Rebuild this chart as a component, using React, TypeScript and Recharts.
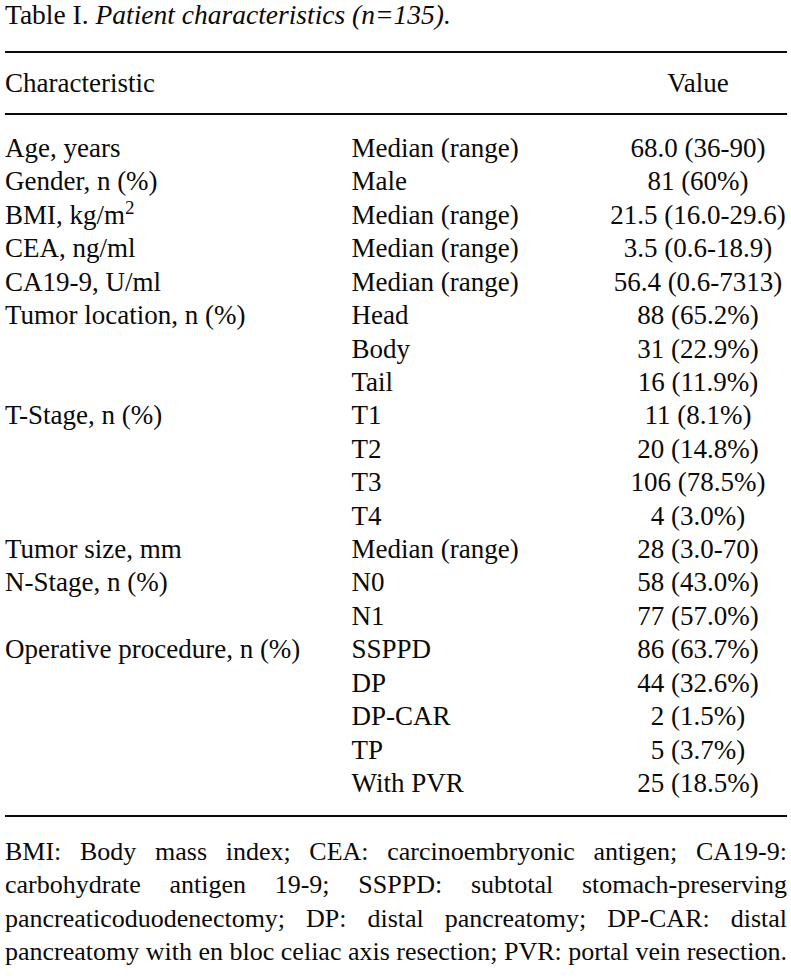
import React from 'react';
import { ScatterChart, Scatter, XAxis, YAxis } from 'recharts';

const columns = ['characteristic', 'subgroup', 'value'];
const headers = ['Characteristic', '', 'Value'];

const characteristics = [
  'Age, years', 'Gender, n (%)', 'BMI, kg/m^2', 'CEA, ng/ml', 'CA19-9, U/ml',
  'Tumor location, n (%)', '', '', 'T-Stage, n (%)', '', '', '',
  'Tumor size, mm', 'N-Stage, n (%)', '', 'Operative procedure, n (%)', '', '', '', '',
];
const subgroups = [
  'Median (range)', 'Male', 'Median (range)', 'Median (range)', 'Median (range)',
  'Head', 'Body', 'Tail', 'T1', 'T2', 'T3', 'T4', 'Median (range)', 'N0', 'N1',
  'SSPPD', 'DP', 'DP-CAR', 'TP', 'With PVR',
];
const values = [
  '68.0 (36-90)', '81 (60%)', '21.5 (16.0-29.6)', '3.5 (0.6-18.9)', '56.4 (0.6-7313)',
  '88 (65.2%)', '31 (22.9%)', '16 (11.9%)', '11 (8.1%)', '20 (14.8%)', '106 (78.5%)',
  '4 (3.0%)', '28 (3.0-70)', '58 (43.0%)', '77 (57.0%)', '86 (63.7%)', '44 (32.6%)',
  '2 (1.5%)', '5 (3.7%)', '25 (18.5%)',
];

const titleLead = 'Table I.';
const titleItalic = 'Patient characteristics (n=135).';

const footnoteLines = [
  'BMI: Body mass index; CEA: carcinoembryonic antigen; CA19-9:',
  'carbohydrate antigen 19-9; SSPPD: subtotal stomach-preserving',
  'pancreaticoduodenectomy; DP: distal pancreatomy; DP-CAR: distal',
  'pancreatomy with en bloc celiac axis resection; PVR: portal vein resection.',
];

const FONT = "'Liberation Serif', 'Times New Roman', Times, serif";
const INK = '#0a0a0a';

const cellsFor = (col: number, texts: string[]) =>
  texts.map((text, i) => ({ col: columns[col], row: i, text }));
const charCells = cellsFor(0, characteristics);
const subCells = cellsFor(1, subgroups);
const valueCells = cellsFor(2, values);
const allCells = [...charCells, ...subCells, ...valueCells];

function CellText(props: any) {
  const { cx, cy, payload } = props;
  const text: string = payload && payload.text;
  if (!text) return <g />;
  const anchor = payload.col === 'value' ? 'middle' : 'start';
  const sup = text.indexOf('^');
  return (
    <text x={cx} y={cy + 9} textAnchor={anchor} fontFamily={FONT} fontSize={27} fill={INK}>
      {sup >= 0 ? (
        <>
          {text.slice(0, sup)}
          <tspan dy={-10} fontSize={19}>{text.slice(sup + 1)}</tspan>
        </>
      ) : (
        text
      )}
    </text>
  );
}

function HeaderTick(props: any) {
  const { x, y, payload } = props;
  const i = columns.indexOf(payload.value);
  const label = headers[i];
  if (!label) return <g />;
  return (
    <text x={x} y={y} textAnchor={i === 2 ? 'middle' : 'start'} fontFamily={FONT} fontSize={27} fill={INK} stroke="none">
      {label}
    </text>
  );
}

const Hidden = () => <g />;
const rule = { stroke: INK, strokeWidth: 2 };

export default function App() {
  return (
    <div style={{ position: 'absolute', left: 0, top: 0, width: 791, height: 978, background: '#fff' }}>
      <div
        style={{
          position: 'absolute', left: 5, top: 0, fontFamily: FONT, fontSize: 27.5,
          lineHeight: '30px', color: INK, whiteSpace: 'nowrap',
        }}
      >
        {titleLead} <i>{titleItalic}</i>
      </div>
      <ScatterChart width={791} height={978} margin={{ top: 51, right: 4, bottom: 161, left: 5 }}>
        <XAxis
          xAxisId="head"
          orientation="top"
          type="category"
          dataKey="col"
          allowDuplicatedCategory={false}
          ticks={columns}
          scale="point"
          padding={{ left: 0, right: 89 }}
          height={62}
          axisLine={rule}
          tickLine={false}
          tickSize={0}
          tickMargin={22}
          interval={0}
          tick={<HeaderTick />}
        />
        <XAxis
          xAxisId="rule"
          orientation="top"
          type="category"
          dataKey="col"
          allowDuplicatedCategory={false}
          height={1}
          axisLine={rule}
          tickLine={false}
          tick={false}
        />
        <XAxis
          xAxisId="foot"
          orientation="bottom"
          type="category"
          dataKey="col"
          allowDuplicatedCategory={false}
          height={1}
          axisLine={rule}
          tickLine={false}
          tick={false}
        />
        <YAxis type="number" dataKey="row" domain={[0, 19]} reversed hide padding={{ top: 34, bottom: 33 }} />
        <Scatter xAxisId="head" data={charCells} shape={<CellText />} isAnimationActive={false} />
        <Scatter xAxisId="head" data={subCells} shape={<CellText />} isAnimationActive={false} />
        <Scatter xAxisId="head" data={valueCells} shape={<CellText />} isAnimationActive={false} />
        <Scatter xAxisId="rule" data={allCells} shape={<Hidden />} isAnimationActive={false} />
        <Scatter xAxisId="foot" data={allCells} shape={<Hidden />} isAnimationActive={false} />
      </ScatterChart>
      <div
        style={{
          position: 'absolute', left: 5, top: 835, width: 782, fontFamily: FONT,
          fontSize: 26, lineHeight: '33.4px', color: INK,
        }}
      >
        {footnoteLines.map((line, i) => (
          <div key={i} style={{ textAlign: 'justify', textAlignLast: 'justify', whiteSpace: 'nowrap' }}>
            {line}
          </div>
        ))}
      </div>
    </div>
  );
}
